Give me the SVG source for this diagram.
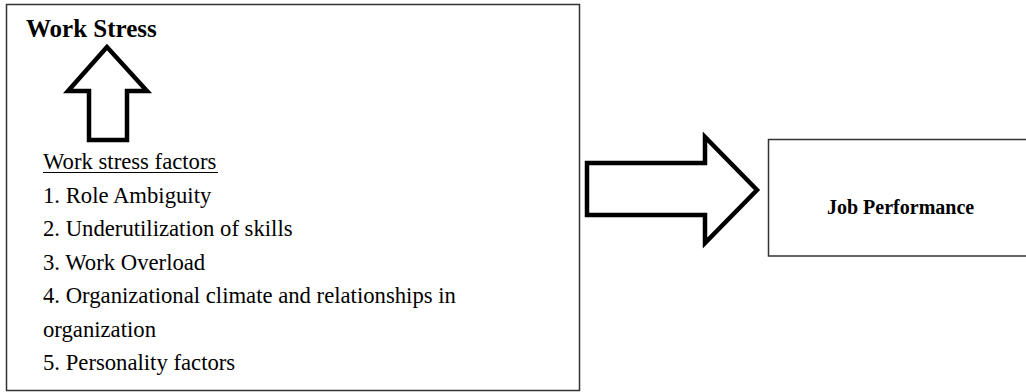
<svg xmlns="http://www.w3.org/2000/svg" width="1026" height="392" viewBox="0 0 1026 392">
<style>
.box{fill:#fff;stroke:#333;stroke-width:1.5}
.arrow{fill:#fff;stroke:#000;stroke-width:4.5;stroke-linejoin:miter}
.t{font-family:"Liberation Serif","Times New Roman",serif;fill:#000}
.b{font-weight:bold}
.list{font-size:22.7px}
</style>
<rect width="1026" height="392" fill="#fff"/>
<g id="work-stress-box">
<rect class="box" x="6.5" y="4.5" width="573" height="386"/>
<text class="t b" x="26" y="37" font-size="25">Work Stress</text>
<text class="t list" x="43" y="169">Work stress factors</text>
<line x1="43" y1="172.5" x2="218" y2="172.5" stroke="#000" stroke-width="1.2"/>
<text class="t list" x="43" y="203">1. Role Ambiguity</text>
<text class="t list" x="43" y="236">2. Underutilization of skills</text>
<text class="t list" x="43" y="270">3. Work Overload</text>
<text class="t list" x="43" y="303">4. Organizational climate and relationships in</text>
<text class="t list" x="43" y="337">organization</text>
<text class="t list" x="43" y="370">5. Personality factors</text>
</g>
<g id="job-performance">
<path class="box" d="M1030,139.5 H768.5 V256 H1030"/>
<text class="t b" x="827" y="214" font-size="20">Job Performance</text>
</g>
<g id="connectors">
<path class="arrow" d="M107,47 L68,91 H89 V140 H127 V91 H147 Z"/>
<path class="arrow" d="M587,163 H705 V137 L757,190 L705,243 V215 H587 Z"/>
</g>
</svg>
